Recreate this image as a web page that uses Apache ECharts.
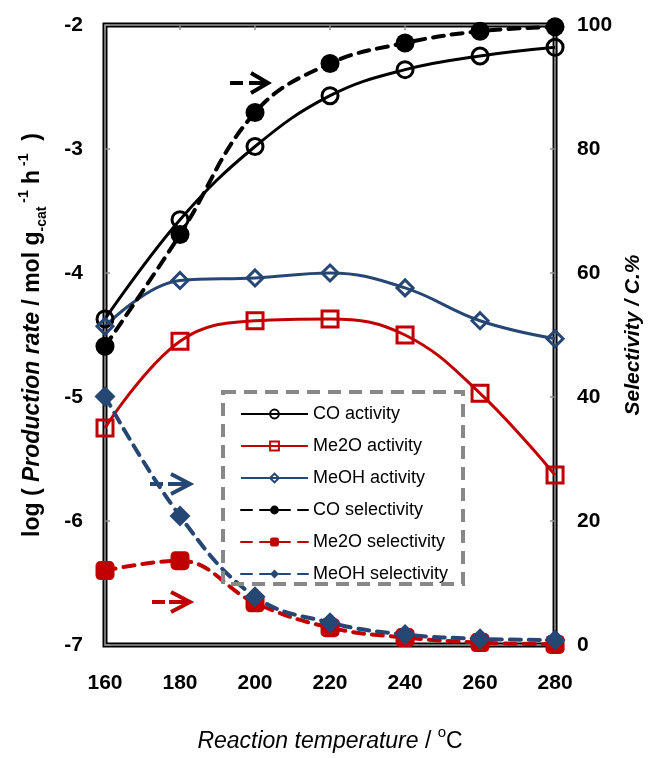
<!DOCTYPE html>
<html>
<head>
<meta charset="utf-8">
<script src="https://cdn.jsdelivr.net/npm/echarts@6/dist/echarts.min.js"></script>
<style>
html,body{margin:0;padding:0;background:#fff;}
#chart{width:652px;height:758px;}
</style>
</head>
<body>
<div id="chart"></div>
<script>
// ---- data ----
const temps = [160, 180, 200, 220, 240, 260, 280];
const coActivity = [-4.37, -3.57, -2.98, -2.57, -2.36, -2.25, -2.18];
const me2oActivity = [-5.25, -4.55, -4.385, -4.37, -4.50, -4.97, -5.63];
const meohActivity = [-4.43, -4.06, -4.04, -4.00, -4.12, -4.385, -4.53];
const coSelectivity = [48.2, 66.2, 85.9, 93.8, 97.1, 99.0, 99.7];
const me2oSelectivity = [12.0, 13.6, 6.8, 2.8, 1.2, 0.4, 0.1];
const meohSelectivity = [40.1, 20.8, 7.8, 3.6, 1.7, 1.0, 0.8];
const leftTicks = [-7, -6, -5, -4, -3, -2];
const rightTicks = [0, 20, 40, 60, 80, 100];

const FONT = '"Liberation Sans", Arial, sans-serif';
const RED = '#C00000';
const BLUE = '#264773';
const BLACK = '#000000';

function pairs(ys) { return temps.map((t, i) => [t, ys[i]]); }

const chart = echarts.init(document.getElementById('chart'), null, {renderer: 'canvas'});

function actSeries(name, data, color, symbol, size) {
  return {
    name, type: 'line', xAxisIndex: 0, yAxisIndex: 0, data: pairs(data),
    smooth: 0.4, clip: false, z: 3,
    symbol, symbolSize: size,
    lineStyle: {color, width: 3},
    itemStyle: {color: 'rgba(255,255,255,0)', borderColor: color, borderWidth: 3},
    emphasis: {disabled: true}
  };
}
function selSeries(name, data, color, symbol, size) {
  return {
    name, type: 'line', xAxisIndex: 0, yAxisIndex: 1, data: pairs(data),
    smooth: 0.4, clip: false, z: 4,
    symbol, symbolSize: size,
    lineStyle: {color, width: 4, type: [11, 8], cap: 'round'},
    itemStyle: {color, borderWidth: 0},
    emphasis: {disabled: true}
  };
}

const tickStyle = {show: true, inside: true, length: 5, lineStyle: {color: '#8c8c8c', width: 1.5}};
const axisLineStyle = {show: true, lineStyle: {color: '#9a9a9a', width: 1.5}};
const labelStyle = {color: '#000', fontFamily: FONT, fontWeight: 'bold', fontSize: 21};

const option = {
  backgroundColor: '#fff',
  animation: false,
  grid: {left: 105, right: 90, top: 25, bottom: 102, show: true, borderColor: '#000', borderWidth: 5, backgroundColor: '#fff'},
  legend: {
    orient: 'vertical', left: 235, top: 400,
    itemWidth: 67, itemHeight: 11, itemGap: 14,
    textStyle: {color: '#000', fontFamily: FONT, fontSize: 18},
    data: ['CO activity', 'Me2O activity', 'MeOH activity', 'CO selectivity', 'Me2O selectivity', 'MeOH selectivity']
  },
  xAxis: [
    {
      type: 'value', position: 'bottom', min: 160, max: 280, interval: 20,
      axisLine: axisLineStyle, axisTick: {show: false}, splitLine: {show: false},
      axisLabel: Object.assign({margin: 28}, labelStyle),
      name: '{i|Reaction temperature}{n| / }{sup|o}{n|C}',
      nameLocation: 'middle', nameGap: 80,
      nameTextStyle: {
        color: '#000', fontFamily: FONT, fontSize: 23, lineHeight: 28,
        rich: {
          i: {fontStyle: 'italic', fontSize: 23, fontFamily: FONT, color: '#000', lineHeight: 28, verticalAlign: 'bottom'},
          n: {fontSize: 23, fontFamily: FONT, color: '#000', lineHeight: 28, verticalAlign: 'bottom'},
          sup: {fontSize: 15, fontFamily: FONT, color: '#000', lineHeight: 28, verticalAlign: 'top'}
        }
      }
    },
    {
      type: 'value', position: 'top', min: 160, max: 280, interval: 20,
      axisLine: axisLineStyle, axisTick: tickStyle, axisLabel: {show: false}, splitLine: {show: false}
    }
  ],
  yAxis: [
    {
      type: 'value', position: 'left', min: -7, max: -2, interval: 1,
      axisLine: axisLineStyle, axisTick: tickStyle, splitLine: {show: false},
      axisLabel: Object.assign({margin: 22}, labelStyle),
      name: '{b|log ( }{bi|Production rate}{b| / mol g}{sub|-cat}{sup| -1}{b| h}{sup| -1}{b|  )}',
      nameLocation: 'middle', nameGap: 56, nameRotate: 90,
      nameTextStyle: {
        color: '#000', fontFamily: FONT, fontWeight: 'bold', fontSize: 23, lineHeight: 32,
        rich: {
          b: {fontWeight: 'bold', fontSize: 23, fontFamily: FONT, color: '#000', lineHeight: 32, verticalAlign: 'middle'},
          bi: {fontWeight: 'bold', fontStyle: 'italic', fontSize: 23, fontFamily: FONT, color: '#000', lineHeight: 32, verticalAlign: 'middle'},
          sub: {fontWeight: 'bold', fontSize: 14, fontFamily: FONT, color: '#000', lineHeight: 32, verticalAlign: 'bottom'},
          sup: {fontWeight: 'bold', fontSize: 14, fontFamily: FONT, color: '#000', lineHeight: 32, verticalAlign: 'top'}
        }
      }
    },
    {
      type: 'value', position: 'right', min: 0, max: 100, interval: 20,
      axisLine: axisLineStyle, axisTick: tickStyle, splitLine: {show: false},
      axisLabel: Object.assign({margin: 22}, labelStyle),
      name: 'Selectivity / C.%',
      nameLocation: 'middle', nameGap: 62, nameRotate: 90,
      nameTextStyle: {color: '#000', fontFamily: FONT, fontWeight: 'bold', fontStyle: 'italic', fontSize: 21}
    }
  ],
  series: [
    actSeries('CO activity', coActivity, BLACK, 'circle', 16),
    actSeries('Me2O activity', me2oActivity, RED, 'rect', 16),
    actSeries('MeOH activity', meohActivity, BLUE, 'diamond', 16),
    selSeries('CO selectivity', coSelectivity, BLACK, 'circle', 19),
    selSeries('Me2O selectivity', me2oSelectivity, RED, 'roundRect', 19),
    selSeries('MeOH selectivity', meohSelectivity, BLUE, 'diamond', 21)
  ],
  graphic: [
    {type: 'rect', shape: {x: 223, y: 392, width: 240, height: 192}, style: {fill: 'none', stroke: '#888', lineWidth: 4, lineDash: [13, 8]}, z: 10},
    // black arrow
    {type: 'line', shape: {x1: 230, y1: 83, x2: 243, y2: 83}, style: {stroke: '#000', lineWidth: 4}, z: 10},
    {type: 'line', shape: {x1: 249, y1: 83, x2: 267, y2: 83}, style: {stroke: '#000', lineWidth: 4}, z: 10},
    {type: 'polyline', shape: {points: [[251, 73], [268, 83], [251, 93]]}, style: {stroke: '#000', lineWidth: 4, fill: 'none'}, z: 10},
    // blue arrow
    {type: 'line', shape: {x1: 150, y1: 484, x2: 163, y2: 484}, style: {stroke: BLUE, lineWidth: 4}, z: 10},
    {type: 'line', shape: {x1: 168, y1: 484, x2: 189, y2: 484}, style: {stroke: BLUE, lineWidth: 4}, z: 10},
    {type: 'polyline', shape: {points: [[171, 474], [190, 484], [171, 494]]}, style: {stroke: BLUE, lineWidth: 4, fill: 'none'}, z: 10},
    // red arrow
    {type: 'line', shape: {x1: 152, y1: 602, x2: 165, y2: 602}, style: {stroke: RED, lineWidth: 4}, z: 10},
    {type: 'line', shape: {x1: 169, y1: 602, x2: 189, y2: 602}, style: {stroke: RED, lineWidth: 4}, z: 10},
    {type: 'polyline', shape: {points: [[171, 592], [190, 602], [171, 612]]}, style: {stroke: RED, lineWidth: 4, fill: 'none'}, z: 10}
  ]
};
chart.setOption(option);
</script>
</body>
</html>
